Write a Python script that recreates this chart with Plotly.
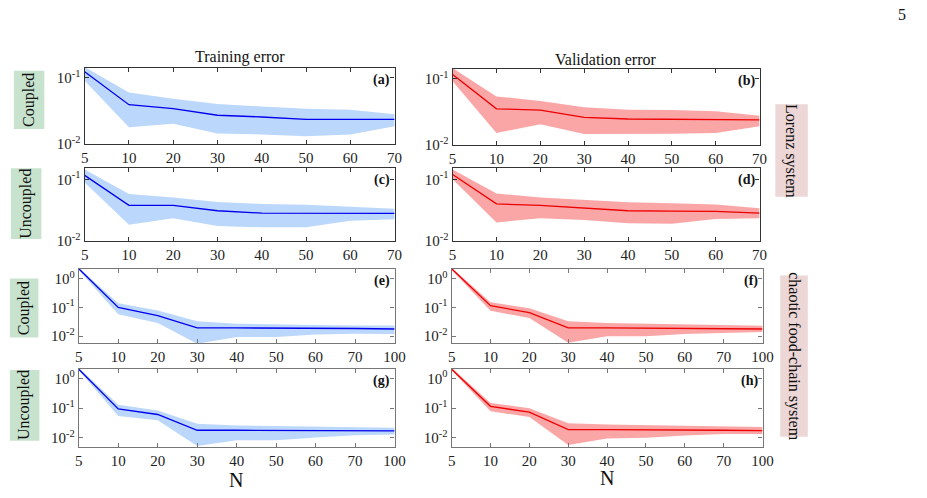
import plotly.graph_objects as go

W, H = 927, 498

# ---------------- data ----------------
lorenz_N = ["5", "10", "20", "30", "40", "50", "60", "70"]
food_N = ["5", "10", "20", "30", "40", "50", "60", "70", "100"]

# (a) Lorenz, coupled, training
a_mean = [0.123, 0.039, 0.034, 0.027, 0.0254, 0.0234, 0.0234, 0.0234]
a_up = [0.145, 0.060, 0.048, 0.040, 0.0367, 0.034, 0.0327, 0.028]
a_lo = [0.090, 0.0178, 0.020, 0.0143, 0.0138, 0.0129, 0.0138, 0.0184]
# (b) Lorenz, coupled, validation
b_mean = [0.116, 0.035, 0.0335, 0.026, 0.0245, 0.0243, 0.0237, 0.0237]
b_up = [0.145, 0.054, 0.046, 0.037, 0.034, 0.0335, 0.032, 0.0275]
b_lo = [0.092, 0.015, 0.0204, 0.0145, 0.0145, 0.0146, 0.015, 0.019]
# (c) Lorenz, uncoupled, training
c_mean = [0.116, 0.038, 0.038, 0.031, 0.0284, 0.0282, 0.0282, 0.0282]
c_up = [0.145, 0.058, 0.051, 0.043, 0.040, 0.0388, 0.036, 0.0335]
c_lo = [0.089, 0.0183, 0.0235, 0.0176, 0.0167, 0.0167, 0.0213, 0.0226]
# (d) Lorenz, uncoupled, validation
d_mean = [0.120, 0.040, 0.038, 0.034, 0.031, 0.0305, 0.0302, 0.0284]
d_up = [0.145, 0.059, 0.051, 0.047, 0.0425, 0.041, 0.039, 0.034]
d_lo = [0.100, 0.020, 0.0235, 0.022, 0.0195, 0.019, 0.0227, 0.0235]
# (e) food chain, coupled, training
e_mean = [2.2, 0.100, 0.052, 0.0194, 0.0194, 0.0194, 0.019, 0.0185, 0.0178]
e_up = [2.4, 0.139, 0.078, 0.033, 0.027, 0.0265, 0.0245, 0.0234, 0.0234]
e_lo = [2.0, 0.058, 0.029, 0.0055, 0.0093, 0.0093, 0.0114, 0.0121, 0.012]
# (f) food chain, coupled, validation
f_mean = [2.2, 0.115, 0.066, 0.0194, 0.0194, 0.019, 0.0185, 0.0185, 0.0178]
f_up = [2.4, 0.150, 0.094, 0.033, 0.029, 0.027, 0.025, 0.0235, 0.023]
f_lo = [2.0, 0.076, 0.043, 0.0059, 0.010, 0.010, 0.012, 0.013, 0.014]
# (g) food chain, uncoupled, training
g_mean = [2.05, 0.094, 0.061, 0.018, 0.018, 0.018, 0.018, 0.0175, 0.017]
g_up = [2.3, 0.130, 0.083, 0.030, 0.026, 0.025, 0.0245, 0.023, 0.022]
g_lo = [1.9, 0.054, 0.039, 0.0053, 0.0083, 0.0083, 0.0102, 0.0123, 0.013]
# (h) food chain, uncoupled, validation
h_mean = [2.05, 0.115, 0.073, 0.019, 0.019, 0.019, 0.0185, 0.018, 0.0176]
h_up = [2.3, 0.149, 0.100, 0.031, 0.028, 0.027, 0.026, 0.024, 0.023]
h_lo = [1.9, 0.079, 0.050, 0.0057, 0.0095, 0.010, 0.012, 0.0135, 0.0135]

panel_letters = ["(a)", "(b)", "(c)", "(d)", "(e)", "(f)", "(g)", "(h)"]

# ---------------- layout helpers ----------------
def px(x):
    return x / W

def py(y):
    return 1 - y / H

FONT = "Liberation Serif, Times New Roman, serif"
BLUE, BLUE_FILL = "#0000ee", "rgba(175,208,250,0.85)"
RED, RED_FILL = "#ee0000", "rgba(250,150,150,0.85)"

panels = [
    ("(a)", lorenz_N, a_mean, a_up, a_lo, BLUE, BLUE_FILL, (82, 397), (69, 146), (-2, -0.85), [-2, -1]),
    ("(b)", lorenz_N, b_mean, b_up, b_lo, RED, RED_FILL, (456, 768), (70, 147), (-2, -0.85), [-2, -1]),
    ("(c)", lorenz_N, c_mean, c_up, c_lo, BLUE, BLUE_FILL, (82, 397), (171, 245), (-2, -0.82), [-2, -1]),
    ("(d)", lorenz_N, d_mean, d_up, d_lo, RED, RED_FILL, (456, 768), (171, 245), (-2, -0.82), [-2, -1]),
    ("(e)", food_N, e_mean, e_up, e_lo, BLUE, BLUE_FILL, (76, 397), (273, 349), (-2.25, 0.35), [-2, -1, 0]),
    ("(f)", food_N, f_mean, f_up, f_lo, RED, RED_FILL, (455, 771), (273, 349), (-2.25, 0.35), [-2, -1, 0]),
    ("(g)", food_N, g_mean, g_up, g_lo, BLUE, BLUE_FILL, (76, 397), (375, 454), (-2.3, 0.32), [-2, -1, 0]),
    ("(h)", food_N, h_mean, h_up, h_lo, RED, RED_FILL, (455, 771), (375, 454), (-2.3, 0.32), [-2, -1, 0]),
]

fig = go.Figure()
layout = dict()
annotations = []
shapes = []

TICKFONT = dict(family=FONT, size=15, color="#222")

for i, (letter, cats, mean, up, lo, col, fill, xp, yp, yr, ytv) in enumerate(panels):
    n = i + 1
    xa = "x" if n == 1 else f"x{n}"
    ya = "y" if n == 1 else f"y{n}"
    idx = list(range(len(cats)))
    fig.add_trace(go.Scatter(
        x=idx + idx[::-1], y=up + lo[::-1], fill="toself", fillcolor=fill,
        line=dict(width=0), mode="lines", hoverinfo="skip", showlegend=False,
        xaxis=xa, yaxis=ya))
    fig.add_trace(go.Scatter(
        x=idx, y=mean, mode="lines", line=dict(color=col, width=1.3),
        showlegend=False, xaxis=xa, yaxis=ya))
    axcol = "#333333" if n <= 4 else "#777777"
    layout["xaxis" if n == 1 else f"xaxis{n}"] = dict(
        domain=[px(xp[0]), px(xp[1])], anchor=ya, range=[0, len(cats) - 1],
        tickmode="array", tickvals=idx, ticktext=cats,
        ticks="inside", ticklen=4, tickcolor=axcol, showline=True, linecolor=axcol,
        linewidth=1.2, mirror="allticks", showgrid=False, zeroline=False,
        tickfont=TICKFONT)
    layout["yaxis" if n == 1 else f"yaxis{n}"] = dict(
        domain=[py(yp[1]), py(yp[0])], anchor=xa, type="log", range=list(yr),
        tickmode="array", tickvals=[10 ** v for v in ytv],
        ticktext=[f"10<sup>{v}</sup>" for v in ytv],
        ticks="inside", ticklen=4, tickcolor=axcol, showline=True, linecolor=axcol,
        linewidth=1.2, mirror="allticks", showgrid=False, zeroline=False,
        tickfont=TICKFONT)
    annotations.append(dict(
        x=px(xp[1] - 3), y=py(yp[0] + 2), xref="paper", yref="paper",
        xanchor="right", yanchor="top", text=f"<b>{letter}</b>", showarrow=False,
        font=dict(family=FONT, size=14, color="#111")))

def text_at(x, y, text, size, angle=0):
    return dict(x=px(x), y=py(y), text=text, showarrow=False, xref="paper", yref="paper",
                xanchor="center", yanchor="middle", textangle=angle,
                font=dict(family=FONT, size=size, color="#111"))

annotations += [
    text_at(240, 58, "Training error", 16),
    text_at(612, 60, "Validation error", 16),
    text_at(236, 488, "N", 20),
    text_at(613, 486, "N", 20),
    text_at(913, 15, "5", 16),
]

GREEN_BOX = "#c7e3cd"
PINK_BOX = "#ecd6d6"
row_labels = [
    ("Coupled", (10, 41), (72, 131), GREEN_BOX, -90),
    ("Uncoupled", (7, 38), (171, 243), GREEN_BOX, -90),
    ("Coupled", (6, 35), (283, 343), GREEN_BOX, -90),
    ("Uncoupled", (6, 36), (376, 448), GREEN_BOX, -90),
    ("Lorenz system", (784, 817), (106, 200), PINK_BOX, 90),
    ("chaotic food-chain system", (789, 817), (280, 444), PINK_BOX, 90),
]
for text, xb, yb, colr, ang in row_labels:
    shapes.append(dict(type="rect", xref="paper", yref="paper",
                       x0=px(xb[0]), x1=px(xb[1]), y0=py(yb[1]), y1=py(yb[0]),
                       fillcolor=colr, line=dict(width=0), layer="below"))
    annotations.append(text_at((xb[0] + xb[1]) / 2, (yb[0] + yb[1]) / 2, text, 16, ang))

fig.update_layout(
    width=W, height=H, margin=dict(l=0, r=0, t=0, b=0),
    paper_bgcolor="white", plot_bgcolor="white",
    font=dict(family=FONT, color="#222"),
    annotations=annotations, shapes=shapes, **layout)

fig.write_html("out.html")
